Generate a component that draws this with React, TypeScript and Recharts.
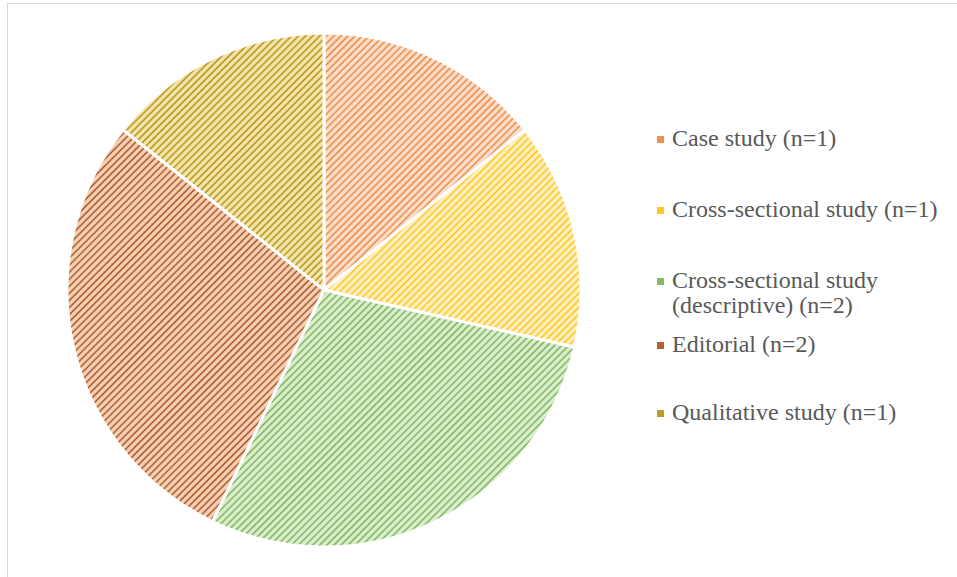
import { Cell, Legend, Pie, PieChart } from "recharts";

const categories = [
  "Case study (n=1)",
  "Cross-sectional study (n=1)",
  "Cross-sectional study (descriptive) (n=2)",
  "Editorial (n=2)",
  "Qualitative study (n=1)",
];
const counts = [1, 1, 2, 2, 1];
// legend label lines as printed (the third one wraps)
const legendLines = [
  ["Case study (n=1)"],
  ["Cross-sectional study (n=1)"],
  ["Cross-sectional study", "(descriptive) (n=2)"],
  ["Editorial (n=2)"],
  ["Qualitative study (n=1)"],
];

// [line colour, background colour] for each hatched slice
const FG = ["#ED7D31", "#FFC000", "#70AD47", "#A5470F", "#AD8A00"];
const BG = ["#FBE0CD", "#FFF0C6", "#DDEED2", "#F6D3BA", "#F5E6B0"];

const data = categories.map((name, i) => ({ name, value: counts[i] }));

const FONT = "'Liberation Serif', 'Times New Roman', serif";

function LegendBox() {
  // vertical centre of each label line
  const rows = [[139], [210], [281, 306], [345], [413]];
  return (
    <div style={{ position: "relative", width: 300, height: 577, fontFamily: FONT, fontSize: 24, color: "#595959" }}>
      {legendLines.map((lines, i) => (
        <div key={i}>
          <span
            style={{
              position: "absolute",
              left: 0,
              top: rows[i][0] - 3.5,
              width: 7,
              height: 7,
              background: FG[i],
              opacity: 0.85,
            }}
          />
          {lines.map((l, j) => (
            <div
              key={j}
              style={{ position: "absolute", left: 15, top: rows[i][j] - 11.7, lineHeight: "23px", whiteSpace: "nowrap" }}
            >
              {l}
            </div>
          ))}
        </div>
      ))}
    </div>
  );
}

export default function App() {
  return (
    <div
      style={{
        position: "absolute",
        left: 0,
        top: 0,
        width: 957,
        height: 577,
        background: "#fff",
        overflow: "hidden",
        fontFamily: FONT,
      }}
    >
      <div
        style={{
          position: "absolute",
          left: 7,
          top: 3,
          width: 960,
          height: 580,
          border: "1.5px solid #D9D9D9",
          boxSizing: "border-box",
        }}
      />
      <PieChart
        width={957}
        height={577}
        margin={{ top: 0, right: 0, bottom: 0, left: 0 }}
        style={{ position: "absolute", left: 0, top: 0 }}
      >
        <defs>
          {FG.map((c, i) => (
            <pattern
              key={i}
              id={`hatch${i}`}
              width={5}
              height={5}
              patternUnits="userSpaceOnUse"
              patternTransform="rotate(45)"
            >
              <rect width={5} height={5} fill={BG[i]} />
              <line x1={1.5} y1={0} x2={1.5} y2={5} stroke={c} strokeWidth={1.4} />
            </pattern>
          ))}
        </defs>
        <Pie
          data={data}
          dataKey="value"
          nameKey="name"
          cx={324}
          cy={290}
          outerRadius={257}
          startAngle={90}
          endAngle={-270}
          stroke="#fff"
          strokeWidth={3}
          isAnimationActive={false}
        >
          {data.map((_, i) => (
            <Cell key={i} fill={`url(#hatch${i})`} />
          ))}
        </Pie>
        <Legend
          layout="vertical"
          align="right"
          verticalAlign="top"
          wrapperStyle={{ left: 657, top: 0, width: 300 }}
          content={() => <LegendBox />}
        />
      </PieChart>
    </div>
  );
}
